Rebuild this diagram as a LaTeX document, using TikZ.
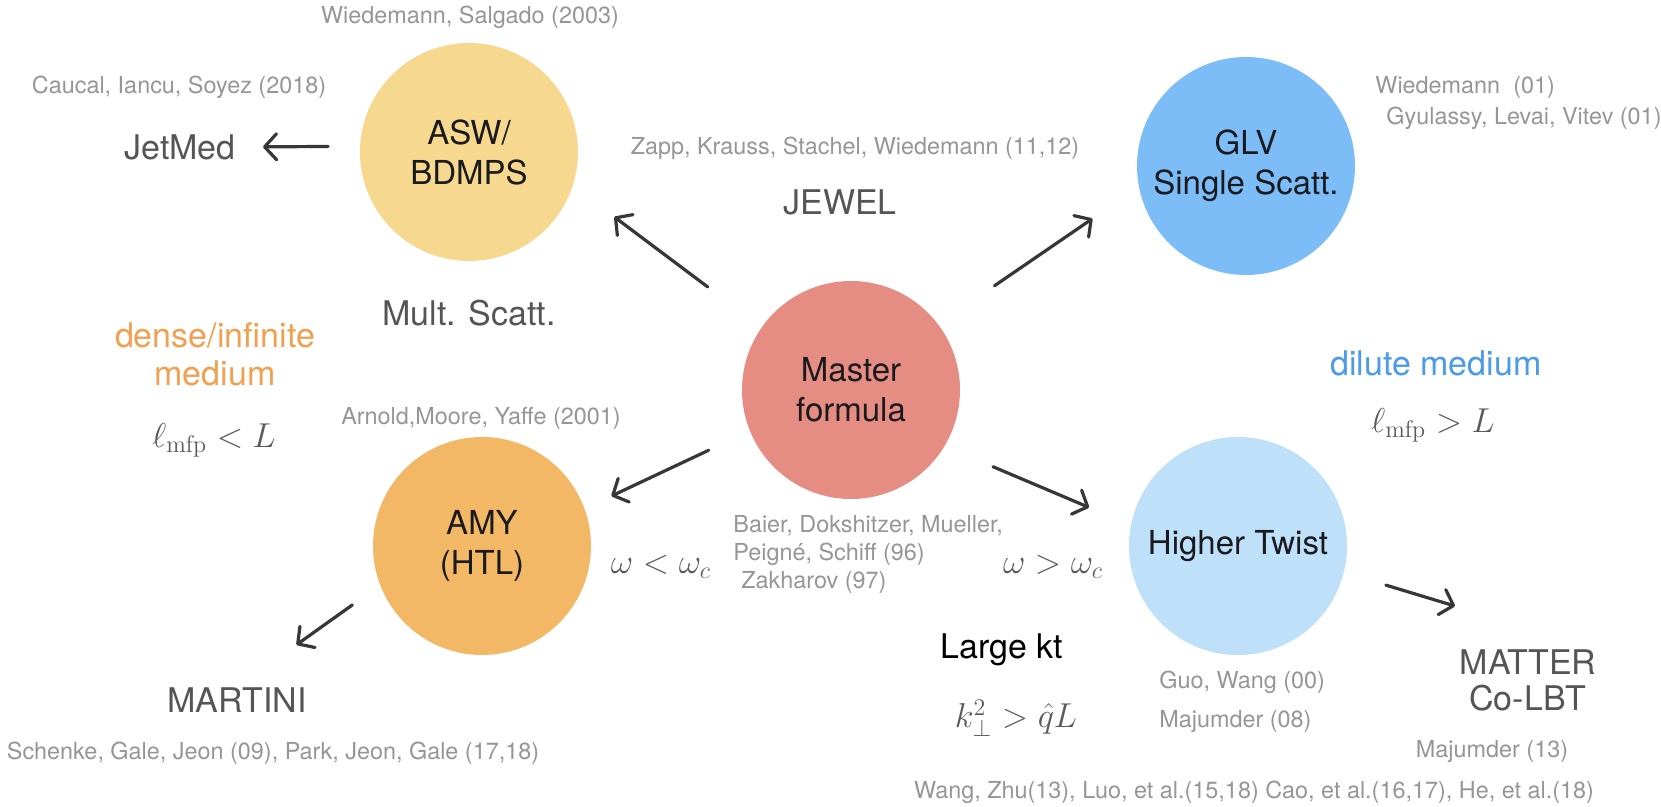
\documentclass[tikz,border=0pt]{standalone}
\usepackage[no-math]{fontspec}
\setmainfont{TeX Gyre Heros}
\usetikzlibrary{arrows.meta}

\definecolor{aswfill}{RGB}{246,216,143}
\definecolor{glvfill}{RGB}{125,189,247}
\definecolor{masterfill}{RGB}{229,141,131}
\definecolor{amyfill}{RGB}{243,184,102}
\definecolor{htfill}{RGB}{191,224,249}
\definecolor{refgray}{RGB}{150,150,150}
\definecolor{labgray}{RGB}{85,85,85}
\definecolor{mathgray}{RGB}{90,90,90}
\definecolor{densecol}{RGB}{240,160,80}
\definecolor{dilutecol}{RGB}{74,155,232}
\definecolor{arrowcol}{RGB}{55,55,55}
\definecolor{blobtext}{RGB}{25,25,30}

\newcommand\citesz{\fontsize{11.7}{14}\selectfont}
\newcommand\labsz{\fontsize{17}{19}\selectfont}
\newcommand\blobsz{\fontsize{16.5}{20}\selectfont}
\newcommand\mathsz{\fontsize{17}{19}\selectfont}

\tikzset{
  blob/.style={circle, minimum size=109pt, inner sep=0pt, outer sep=0pt,
    align=center, text=blobtext, font=\blobsz},
  cite/.style={text=refgray, font=\citesz, inner sep=0pt},
  model/.style={text=labgray, font=\labsz, inner sep=0pt, align=center},
  regime/.style={text=mathgray, font=\mathsz, inner sep=0pt},
  arr/.style={draw=arrowcol, line width=1.6pt, line cap=round,
    -{Straight Barb[length=6pt,width=13pt,round]}},
}

\begin{document}
\begin{tikzpicture}[x=0.5pt,y=-0.5pt]
\useasboundingbox (0,0) rectangle (1661,807);
\fill[white] (0,0) rectangle (1661,807);

% formalisms
\node[blob, fill=aswfill]    (asw)    at (469,152)  {ASW/\\BDMPS};
\node[blob, fill=glvfill]    (glv)    at (1246,166) {GLV\\Single Scatt.};
\node[blob, fill=masterfill] (master) at (851,390)  {Master\\formula};
\node[blob, fill=amyfill]    (amy)    at (482,546)  {AMY\\(HTL)};
\node[blob, fill=htfill]     (ht)     at (1238,546) {Higher Twist};

% event generators
\node[model] (jetmed)  at (180,147)  {JetMed};
\node[model] (jewel)   at (840,202)  {JEWEL};
\node[model] (mult)    at (469,313)  {Mult. Scatt.};
\node[model] (martini) at (237,700)  {MARTINI};
\node[model, font=\fontsize{17}{18}\selectfont] (matter) at (1528,680) {MATTER\\Co-LBT};

% references
\node[cite] (wsal)    at (470,17)  {Wiedemann, Salgado (2003)};
\node[cite] (cis)     at (179,87)  {Caucal, Iancu, Soyez (2018)};
\node[cite] (zapp)    at (855,148) {Zapp, Krauss, Stachel, Wiedemann (11,12)};
\node[cite, anchor=west] (wied01) at (1375,87)  {Wiedemann~ (01)};
\node[cite, anchor=west] (glv01)  at (1386,118) {Gyulassy, Levai, Vitev (01)};
\node[cite] (amyref)  at (481,418) {Arnold,Moore, Yaffe (2001)};
\node[cite, align=left, anchor=west] (bdmps) at (733,554)
  {Baier, Dokshitzer, Mueller,\\Peigné, Schiff (96)\\\hspace*{4pt}Zakharov (97)};
\node[cite, anchor=west] (guo)   at (1159,682) {Guo, Wang (00)};
\node[cite, anchor=west] (maj08) at (1159,722) {Majumder (08)};
\node[cite] (maj13)   at (1492,752) {Majumder (13)};
\node[cite] (lbtref)  at (1254,792) {Wang, Zhu(13), Luo, et al.(15,18) Cao, et al.(16,17), He, et al.(18)};
\node[cite] (schenke) at (273,753) {Schenke, Gale, Jeon (09), Park, Jeon, Gale (17,18)};

% regimes
\node[model, text=densecol]  (dense)  at (215,354)  {dense/infinite\\medium};
\node[regime] (ldense)  at (214,440)  {$\ell_{\mathrm{mfp}} < L$};
\node[model, text=dilutecol] (dilute) at (1436,363) {dilute medium};
\node[regime] (ldilute) at (1433,425) {$\ell_{\mathrm{mfp}} > L$};
\node[regime] (wsoft)   at (661,567)  {$\omega < \omega_c$};
\node[regime] (whard)   at (1053,567) {$\omega > \omega_c$};
\node[model, text=black] (largekt) at (1002,650) {Large kt};
\node[regime] (kperp)   at (1016,718) {$k_\perp^2 > \hat{q}L$};

% connectors
\draw[arr, shorten <=33.75pt, shorten >=26pt]  (master.145.7) -- (asw.-18.5);
\draw[arr, shorten <=34.2pt,  shorten >=28.2pt] (master.37.2)  -- (glv.191.5);
\draw[arr, shorten <=22.8pt,  shorten >=14.9pt] (master.202.8) -- (amy.20.9);
\draw[arr, shorten <=26.4pt,  shorten >=22.75pt] (master.-31)  -- (ht.169.4);
\draw[arr, shorten <=16pt,    shorten >=13.5pt] (asw.177.4)    -- (jetmed.east);
\draw[arr, shorten <=17.1pt,  shorten >=36.5pt] (amy.201.9)    -- (martini.north);
\draw[arr, shorten <=22pt,    shorten >=74pt]   (ht.-14.2)     -- (matter.north east);
\end{tikzpicture}
\end{document}
